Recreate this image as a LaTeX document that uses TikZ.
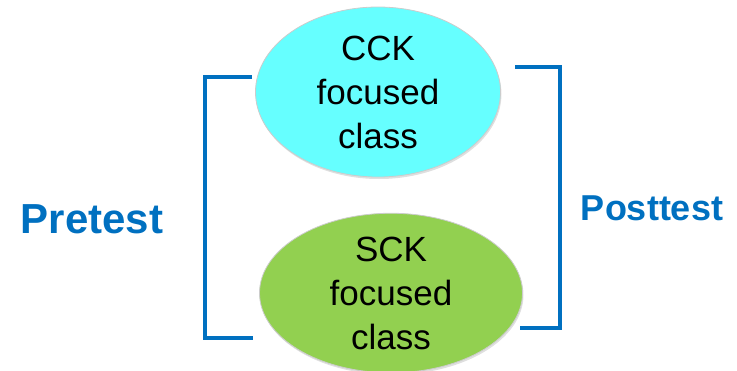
\documentclass[tikz,border=0pt]{standalone}
\usepackage{fontspec}
\setmainfont{Liberation Sans}
\usetikzlibrary{shapes.geometric,shadows}
\definecolor{bracketblue}{HTML}{0070C0}
\definecolor{cckfill}{HTML}{66FFFF}
\definecolor{sckfill}{HTML}{92D050}
\tikzset{
  classnode/.style={ellipse, draw=black!20, line width=0.8pt, inner sep=0pt,
    align=center, font=\fontsize{35}{44}\selectfont,
    drop shadow={opacity=0.25, shadow xshift=1pt, shadow yshift=-2pt}},
  bracket/.style={draw=bracketblue, line width=4pt},
  testlabel/.style={text=bracketblue, font=\bfseries, inner sep=0pt}
}
\begin{document}
\begin{tikzpicture}[x=1pt,y=-1pt]
  \useasboundingbox (0,0) rectangle (737,370);
  % the two class groups
  \node[classnode, fill=cckfill, minimum width=245pt, minimum height=170pt] (cck) at (378,92)
    {CCK\\focused\\class};
  \node[classnode, fill=sckfill, minimum width=263pt, minimum height=148pt] (sck) at (391,293)
    {SCK\\focused\\class};
  % left bracket: pretest for both classes
  \coordinate (lt) at (252,77);
  \coordinate (lb) at (253,338);
  \draw[bracket] (lt) -- (205,77) -- (205,338) -- (lb);
  % right bracket: posttest for both classes
  \coordinate (rt) at (515,67);
  \coordinate (rb) at (520,328);
  \draw[bracket] (rt) -- (560,67) -- (560,328) -- (rb);
  % labels
  \node[testlabel, font=\bfseries\fontsize{42}{42}\selectfont, anchor=base] (pre) at (92,233) {Pretest};
  \node[testlabel, font=\bfseries\fontsize{36}{36}\selectfont, anchor=base] (post) at (652,220) {Posttest};
\end{tikzpicture}
\end{document}
